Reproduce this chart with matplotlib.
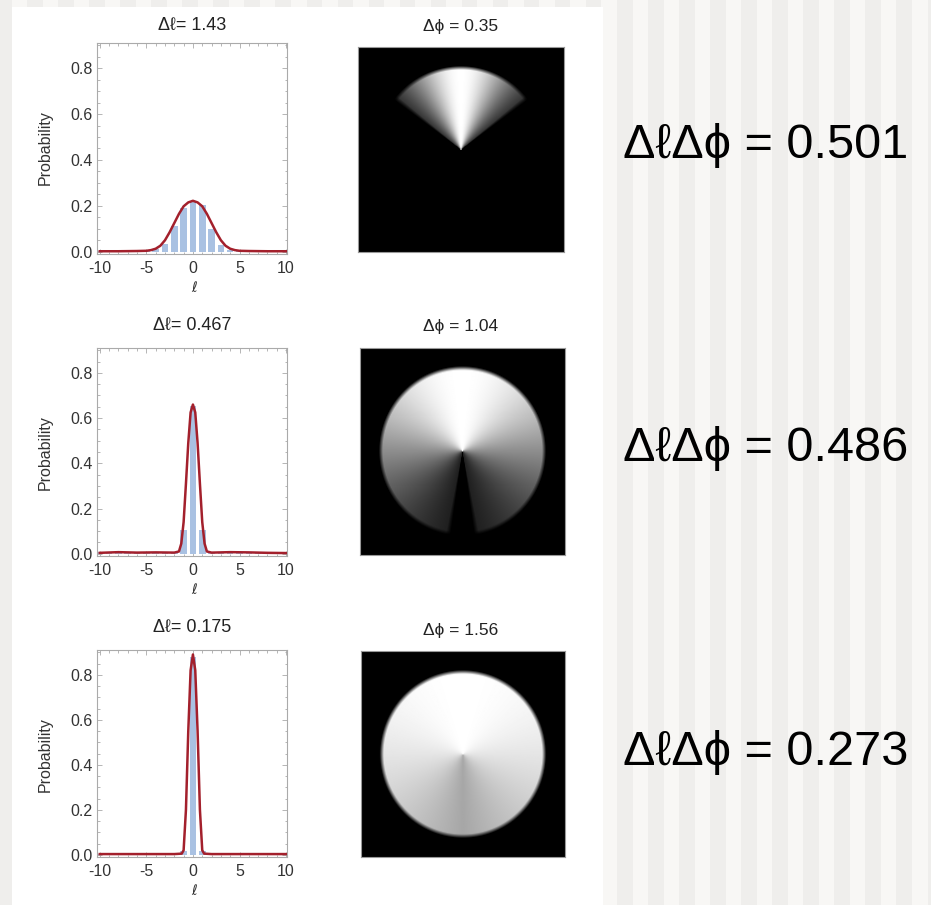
import numpy as np
import matplotlib
matplotlib.use('Agg')
import matplotlib.pyplot as plt
from matplotlib.patches import Rectangle
from matplotlib.ticker import MultipleLocator

plt.rcParams['font.family'] = ['Liberation Sans', 'DejaVu Sans']
plt.rcParams['mathtext.fontset'] = 'dejavusans'
plt.rcParams['axes.unicode_minus'] = False

W, H = 931, 905

# ---- data ----
ells = np.arange(-10, 11)

# measured probabilities P(l) (bars), one list per row
prob_1 = [0.003, 0.004, 0.003, 0.003, 0.004, 0.005, 0.010, 0.035, 0.110, 0.190,
          0.217, 0.205, 0.100, 0.028, 0.009, 0.004, 0.004, 0.003, 0.004, 0.003, 0.003]
prob_2 = [0.006, 0.008, 0.009, 0.005, 0.006, 0.008, 0.007, 0.005, 0.006, 0.105,
          0.655, 0.105, 0.007, 0.006, 0.008, 0.007, 0.009, 0.006, 0.005, 0.006, 0.004]
prob_3 = [0.003, 0.004, 0.003, 0.004, 0.003, 0.004, 0.003, 0.004, 0.003, 0.015,
          0.880, 0.015, 0.003, 0.004, 0.003, 0.004, 0.003, 0.004, 0.003, 0.004, 0.003]

# fitted curves (red lines)
fit_x_1 = [-10, -8, -6, -5, -4.5, -4, -3.5, -3, -2.5, -2, -1.5, -1, -0.5, 0,
           0.5, 1, 1.5, 2, 2.5, 3, 3.5, 4, 4.5, 5, 6, 8, 10]
fit_y_1 = [0.002, 0.002, 0.003, 0.004, 0.007, 0.013, 0.026, 0.050, 0.085, 0.125, 0.165, 0.198, 0.215, 0.222,
           0.215, 0.198, 0.165, 0.125, 0.085, 0.050, 0.026, 0.013, 0.007, 0.004, 0.003, 0.002, 0.002]
fit_x_2 = [-10, -8, -6, -4, -2, -1.5, -1.25, -1, -0.75, -0.5, -0.25, 0,
           0.25, 0.5, 0.75, 1, 1.25, 1.5, 2, 4, 6, 8, 10]
fit_y_2 = [0.004, 0.007, 0.005, 0.006, 0.005, 0.010, 0.045, 0.140, 0.310, 0.490, 0.625, 0.660,
           0.625, 0.490, 0.310, 0.140, 0.045, 0.010, 0.005, 0.007, 0.006, 0.004, 0.003]
fit_x_3 = [-10, -6, -2, -1.2, -1, -0.75, -0.5, -0.25, 0, 0.25, 0.5, 0.75, 1, 1.2, 2, 6, 10]
fit_y_3 = [0.003, 0.003, 0.003, 0.005, 0.020, 0.200, 0.550, 0.820, 0.890,
           0.820, 0.550, 0.200, 0.020, 0.005, 0.003, 0.003, 0.003]

delta_l = ['1.43', '0.467', '0.175']
delta_phi = ['0.35', '1.04', '1.56']
products = ['0.501', '0.486', '0.273']

# angular masks: gaussian width and hard cutoff (radians)
mask_sigma = [0.50, 1.45, 3.40]
mask_cutoff = [0.90, 2.97, 4.0]


def px_axes(fig, left, top, right, bottom, **kw):
    """ add an axes given its box in pixels (origin top-left) """
    return fig.add_axes([left / W, 1 - bottom / H, (right - left) / W, (bottom - top) / H], **kw)


def ftext(fig, x, y, s, **kw):
    fig.text(x / W, 1 - y / H, s, ha='center', va='center', **kw)


def angular_image(sigma, cutoff, n=205, half=1.25):
    xs = np.linspace(-half, half, n)
    ys = np.linspace(half, -half, n)
    xx, yy = np.meshgrid(xs, ys)
    phi = np.arctan2(xx, yy)
    r = np.hypot(xx, yy)
    img = np.exp(-phi ** 2 / (2 * sigma ** 2))
    img *= np.clip((cutoff - np.abs(phi)) / 0.06 + 0.5, 0, 1)
    img *= np.clip((1.0 - r) / 0.05 + 0.5, 0, 1)
    return img


def draw_hist(ax, probs, fx, fy):
    ax.bar(ells, probs, width=0.7, color='#a9c1e2', edgecolor='none', zorder=2)
    ax.plot(fx, fy, color='#a3202c', lw=1.8, zorder=3)
    ax.set_xlim(-10.3, 10.1)
    ax.set_ylim(-0.01, 0.91)
    ax.set_xticks([-10, -5, 0, 5, 10])
    ax.set_yticks([0.0, 0.2, 0.4, 0.6, 0.8])
    ax.set_yticklabels(['0.0', '0.2', '0.4', '0.6', '0.8'])
    ax.xaxis.set_minor_locator(MultipleLocator(1))
    ax.yaxis.set_minor_locator(MultipleLocator(0.05))
    ax.tick_params(which='both', direction='in', top=True, right=True,
                   colors='#aaaaaa', labelcolor='#333333', labelsize=11.5, width=0.6)
    ax.tick_params(which='major', length=3.5)
    ax.tick_params(which='minor', length=1.8)
    ax.tick_params(axis='x', pad=5)
    ax.tick_params(axis='y', pad=3)
    for sp in ax.spines.values():
        sp.set_color('#aaaaaa')
        sp.set_linewidth(0.8)


fig = plt.figure(figsize=(W / 100, H / 100), dpi=100)

# striped page background and the white panel
bg = fig.add_axes([0, 0, 1, 1], zorder=-10)
bg.set_xlim(0, W)
bg.set_ylim(H, 0)
bg.axis('off')
bg.add_patch(Rectangle((0, 0), W, H, color='#f8f7f5', lw=0))
for x0 in np.arange(-4, W, 31.05):
    bg.add_patch(Rectangle((x0, 0), 15.5, H, color='#efeeec', lw=0))
bg.add_patch(Rectangle((12, 7), 591, H, color='white', lw=0))

hist_boxes = [(97, 43, 287, 254), (97, 348, 287, 556), (97, 650, 287, 857)]
img_boxes = [(358, 47, 564, 252), (360, 348, 565, 555), (361, 651, 565, 857)]
probs_all = [prob_1, prob_2, prob_3]
fits = [(fit_x_1, fit_y_1), (fit_x_2, fit_y_2), (fit_x_3, fit_y_3)]
row_title_y = [25, 325, 627]
img_title_y = [27, 326, 630]
text_y = [145, 448, 752]

for i in range(3):
    # left: probability histogram
    ax = px_axes(fig, *hist_boxes[i])
    draw_hist(ax, probs_all[i], *fits[i])
    ftext(fig, 192, row_title_y[i], 'Δℓ= ' + delta_l[i], fontsize=13, color='#222222')
    ftext(fig, 45, hist_boxes[i][1] + 105, 'Probability', fontsize=11.5, rotation=90, color='#333333')
    ftext(fig, 195, hist_boxes[i][3] + 33, r'$\ell$', fontsize=10, color='#333333')

    # middle: angular mask image
    axi = px_axes(fig, *img_boxes[i])
    axi.imshow(angular_image(mask_sigma[i], mask_cutoff[i]), cmap='gray', vmin=0, vmax=1,
               interpolation='bilinear', aspect='auto')
    axi.set_xticks([])
    axi.set_yticks([])
    for sp in axi.spines.values():
        sp.set_color('#999999')
        sp.set_linewidth(0.8)
    ftext(fig, 461, img_title_y[i], 'Δϕ = ' + delta_phi[i], fontsize=12.5, color='#222222')

    # right: uncertainty product
    ftext(fig, 766, text_y[i], 'ΔℓΔϕ = ' + products[i], fontsize=35, color='black')

fig.savefig('out.png', dpi=100)
